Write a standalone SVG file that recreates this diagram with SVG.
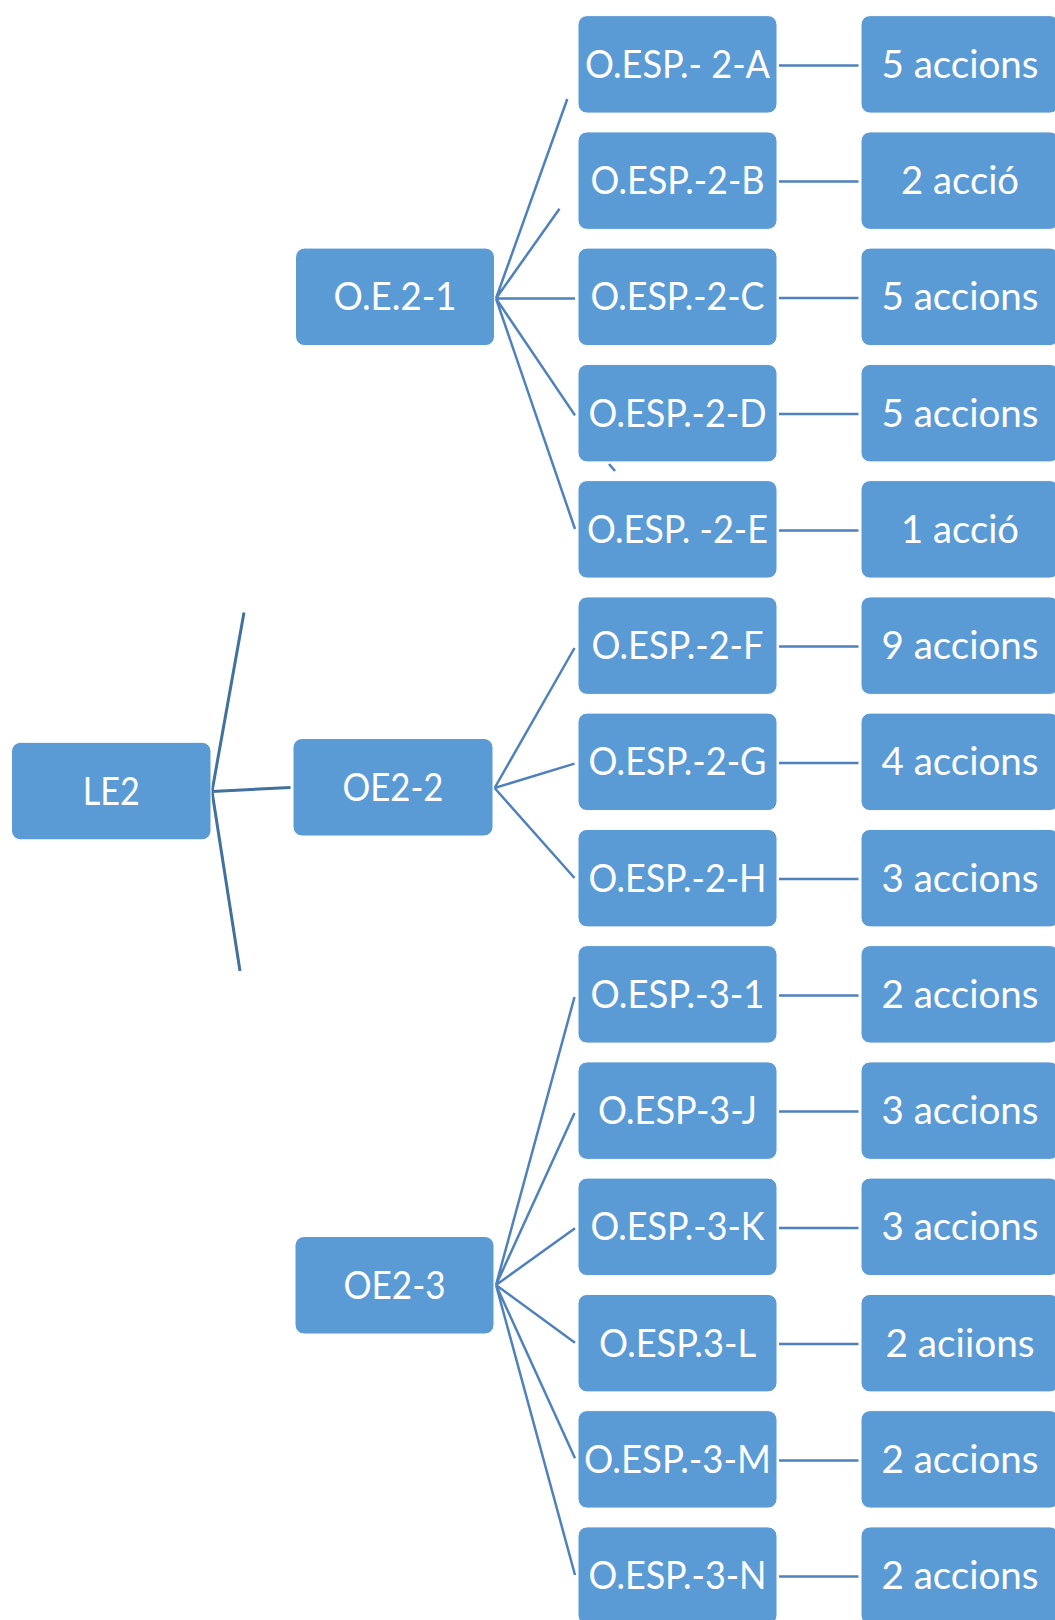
<svg xmlns="http://www.w3.org/2000/svg" width="1055" height="1620" viewBox="0 0 1055 1620">
<style>
.box{fill:#5B9BD5;stroke:#ffffff;stroke-width:1}
.t{fill:#ffffff;font-family:Lato,"Liberation Sans",sans-serif;font-size:38px;text-anchor:middle}
.ln{stroke:#4F81BD;stroke-width:2.5;fill:none;stroke-linecap:butt}
.ln0{stroke:#41719C;stroke-width:3;fill:none}
</style>
<rect width="1055" height="1620" fill="#ffffff"/>
<g id="connectors">
<path class="ln0" d="M212,791.5 L244,612.5 M212,791.5 L240,971 M212,791.5 L290.5,787.5"/>
<path class="ln" d="M496,298.5 L567.3,99 M496,298.5 L559.5,208.7 M496,298.5 L575,298.5 M496,298.5 L575,415.4 M496,298.5 L575,529"/>
<path class="ln" d="M609,464 L615,471"/>
<path class="ln" d="M494.6,788 L574.5,648 M494.6,788 L574.5,763.6 M494.6,788 L574.5,878"/>
<path class="ln" d="M496,1285 L574.5,997 M496,1285 L574.5,1113 M496,1285 L575,1228.3 M496,1285 L575,1342.7 M496,1285 L575,1458.3 M496,1285 L575,1575"/>
<path class="ln" d="M779,65.4 H858.5 M779,181.6 H858.5 M779,297.9 H858.5 M779,414.1 H858.5 M779,530.4 H858.5 M779,646.6 H858.5 M779,762.9 H858.5 M779,879.1 H858.5 M779,995.4 H858.5 M779,1111.6 H858.5 M779,1227.9 H858.5 M779,1344.1 H858.5 M779,1460.4 H858.5 M779,1576.6 H858.5"/>
</g>
<g id="LE2"><rect class="box" x="11.5" y="742.3" width="199.5" height="97.5" rx="9"/><text class="t" x="111.3" y="804.5" textLength="57" lengthAdjust="spacingAndGlyphs">LE2</text></g>
<g id="OE2-1"><rect class="box" x="295.5" y="248.1" width="199" height="97.5" rx="9"/><text class="t" x="395" y="310.3" textLength="123" lengthAdjust="spacingAndGlyphs">O.E.2-1</text></g>
<g id="OE2-2"><rect class="box" x="293" y="738.5" width="200" height="97.5" rx="9"/><text class="t" x="393" y="801" textLength="101" lengthAdjust="spacingAndGlyphs">OE2-2</text></g>
<g id="OE2-3"><rect class="box" x="295" y="1236.5" width="199" height="97.5" rx="9"/><text class="t" x="394.5" y="1298.8" textLength="102" lengthAdjust="spacingAndGlyphs">OE2-3</text></g>
<g id="OESP-2-A"><rect class="box" x="578" y="15.6" width="199" height="97.5" rx="9"/><text class="t" x="677.5" y="77.9" textLength="185" lengthAdjust="spacingAndGlyphs">O.ESP.- 2-A</text></g>
<g id="OESP-2-B"><rect class="box" x="578" y="131.9" width="199" height="97.5" rx="9"/><text class="t" x="677.5" y="194.1" textLength="174" lengthAdjust="spacingAndGlyphs">O.ESP.-2-B</text></g>
<g id="OESP-2-C"><rect class="box" x="578" y="248.1" width="199" height="97.5" rx="9"/><text class="t" x="677.5" y="310.4" textLength="174" lengthAdjust="spacingAndGlyphs">O.ESP.-2-C</text></g>
<g id="OESP-2-D"><rect class="box" x="578" y="364.4" width="199" height="97.5" rx="9"/><text class="t" x="677.5" y="426.6" textLength="178" lengthAdjust="spacingAndGlyphs">O.ESP.-2-D</text></g>
<g id="OESP-2-E"><rect class="box" x="578" y="480.6" width="199" height="97.5" rx="9"/><text class="t" x="677.5" y="542.9" textLength="181" lengthAdjust="spacingAndGlyphs">O.ESP. -2-E</text></g>
<g id="OESP-2-F"><rect class="box" x="578" y="596.9" width="199" height="97.5" rx="9"/><text class="t" x="677.5" y="659.1" textLength="172" lengthAdjust="spacingAndGlyphs">O.ESP.-2-F</text></g>
<g id="OESP-2-G"><rect class="box" x="578" y="713.1" width="199" height="97.5" rx="9"/><text class="t" x="677.5" y="775.4" textLength="178" lengthAdjust="spacingAndGlyphs">O.ESP.-2-G</text></g>
<g id="OESP-2-H"><rect class="box" x="578" y="829.4" width="199" height="97.5" rx="9"/><text class="t" x="677.5" y="891.6" textLength="178" lengthAdjust="spacingAndGlyphs">O.ESP.-2-H</text></g>
<g id="OESP-3-1"><rect class="box" x="578" y="945.6" width="199" height="97.5" rx="9"/><text class="t" x="677.5" y="1007.9" textLength="174" lengthAdjust="spacingAndGlyphs">O.ESP.-3-1</text></g>
<g id="OESP-3-J"><rect class="box" x="578" y="1061.9" width="199" height="97.5" rx="9"/><text class="t" x="677.5" y="1124.1" textLength="159" lengthAdjust="spacingAndGlyphs">O.ESP-3-J</text></g>
<g id="OESP-3-K"><rect class="box" x="578" y="1178.1" width="199" height="97.5" rx="9"/><text class="t" x="677.5" y="1240.4" textLength="174" lengthAdjust="spacingAndGlyphs">O.ESP.-3-K</text></g>
<g id="OESP-3-L"><rect class="box" x="578" y="1294.4" width="199" height="97.5" rx="9"/><text class="t" x="677.5" y="1356.6" textLength="157" lengthAdjust="spacingAndGlyphs">O.ESP.3-L</text></g>
<g id="OESP-3-M"><rect class="box" x="578" y="1410.6" width="199" height="97.5" rx="9"/><text class="t" x="677.5" y="1472.9" textLength="187" lengthAdjust="spacingAndGlyphs">O.ESP.-3-M</text></g>
<g id="OESP-3-N"><rect class="box" x="578" y="1526.9" width="199" height="97.5" rx="9"/><text class="t" x="677.5" y="1589.1" textLength="178" lengthAdjust="spacingAndGlyphs">O.ESP.-3-N</text></g>
<g id="ACT-A"><rect class="box" x="861" y="15.6" width="198" height="97.5" rx="9"/><text class="t" x="960" y="77.9" textLength="157" lengthAdjust="spacingAndGlyphs">5 accions</text></g>
<g id="ACT-B"><rect class="box" x="861" y="131.9" width="198" height="97.5" rx="9"/><text class="t" x="960" y="194.1" textLength="118" lengthAdjust="spacingAndGlyphs">2 acció</text></g>
<g id="ACT-C"><rect class="box" x="861" y="248.1" width="198" height="97.5" rx="9"/><text class="t" x="960" y="310.4" textLength="157" lengthAdjust="spacingAndGlyphs">5 accions</text></g>
<g id="ACT-D"><rect class="box" x="861" y="364.4" width="198" height="97.5" rx="9"/><text class="t" x="960" y="426.6" textLength="157" lengthAdjust="spacingAndGlyphs">5 accions</text></g>
<g id="ACT-E"><rect class="box" x="861" y="480.6" width="198" height="97.5" rx="9"/><text class="t" x="960" y="542.9" textLength="118" lengthAdjust="spacingAndGlyphs">1 acció</text></g>
<g id="ACT-F"><rect class="box" x="861" y="596.9" width="198" height="97.5" rx="9"/><text class="t" x="960" y="659.1" textLength="157" lengthAdjust="spacingAndGlyphs">9 accions</text></g>
<g id="ACT-G"><rect class="box" x="861" y="713.1" width="198" height="97.5" rx="9"/><text class="t" x="960" y="775.4" textLength="157" lengthAdjust="spacingAndGlyphs">4 accions</text></g>
<g id="ACT-H"><rect class="box" x="861" y="829.4" width="198" height="97.5" rx="9"/><text class="t" x="960" y="891.6" textLength="157" lengthAdjust="spacingAndGlyphs">3 accions</text></g>
<g id="ACT-I"><rect class="box" x="861" y="945.6" width="198" height="97.5" rx="9"/><text class="t" x="960" y="1007.9" textLength="157" lengthAdjust="spacingAndGlyphs">2 accions</text></g>
<g id="ACT-J"><rect class="box" x="861" y="1061.9" width="198" height="97.5" rx="9"/><text class="t" x="960" y="1124.1" textLength="157" lengthAdjust="spacingAndGlyphs">3 accions</text></g>
<g id="ACT-K"><rect class="box" x="861" y="1178.1" width="198" height="97.5" rx="9"/><text class="t" x="960" y="1240.4" textLength="157" lengthAdjust="spacingAndGlyphs">3 accions</text></g>
<g id="ACT-L"><rect class="box" x="861" y="1294.4" width="198" height="97.5" rx="9"/><text class="t" x="960" y="1356.6" textLength="149" lengthAdjust="spacingAndGlyphs">2 aciions</text></g>
<g id="ACT-M"><rect class="box" x="861" y="1410.6" width="198" height="97.5" rx="9"/><text class="t" x="960" y="1472.9" textLength="157" lengthAdjust="spacingAndGlyphs">2 accions</text></g>
<g id="ACT-N"><rect class="box" x="861" y="1526.9" width="198" height="97.5" rx="9"/><text class="t" x="960" y="1589.1" textLength="157" lengthAdjust="spacingAndGlyphs">2 accions</text></g>
</svg>
